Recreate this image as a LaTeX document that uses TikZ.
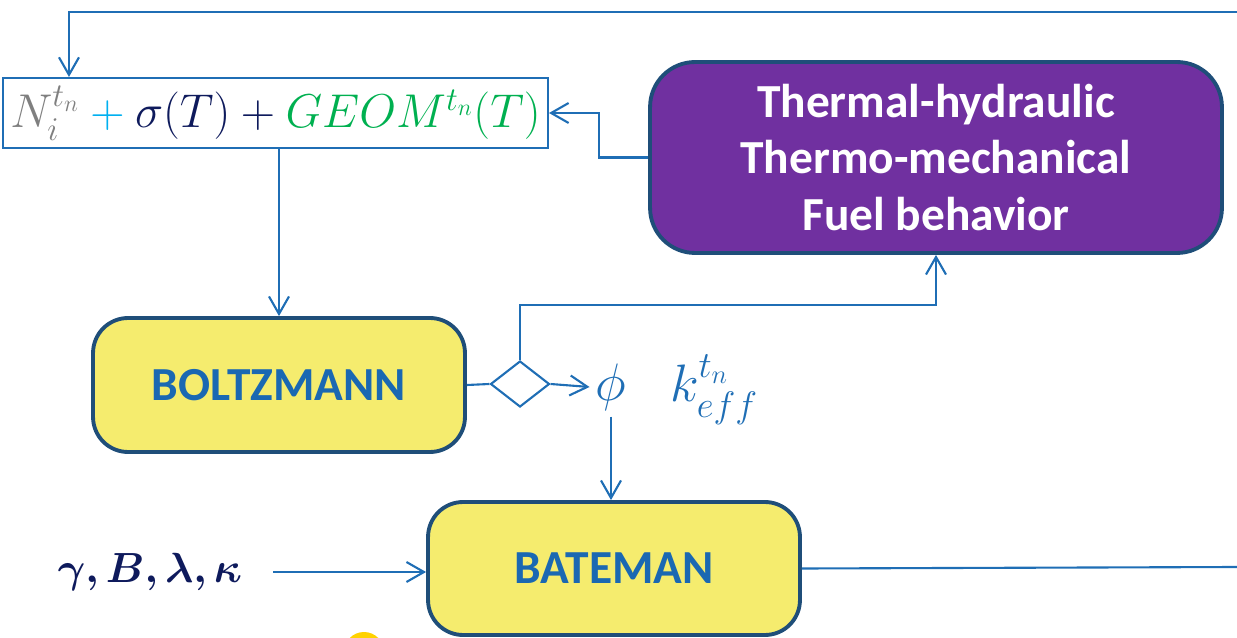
\RequirePackage{fix-cm}
\documentclass[tikz,border=0pt]{standalone}
\usepackage{mathtools,amssymb,bm}
\usepackage{fontspec}
\setsansfont{Carlito}
\usepackage{tikz}
\usetikzlibrary{arrows.meta,positioning,shapes.geometric}
\definecolor{wire}{HTML}{1F6EB5}
\definecolor{frame}{HTML}{1F4E79}
\definecolor{lemon}{HTML}{F5EC6E}
\definecolor{plum}{HTML}{7030A0}
\definecolor{keyblue}{HTML}{1A68B2}
\definecolor{navy}{HTML}{0E1A5C}
\definecolor{grey}{HTML}{7F7F7F}
\definecolor{sky}{HTML}{00B0F0}
\definecolor{leaf}{HTML}{00B050}
\definecolor{sun}{HTML}{FFD200}

\begin{document}
\begin{tikzpicture}[x=0.02cm,y=-0.02cm,
  box/.style={draw=frame,line width=2.2pt,rounded corners=0.7cm,fill=lemon,
    minimum width=7.44cm,minimum height=2.68cm,align=center,
    font=\sffamily\bfseries\fontsize{27}{32}\selectfont,text=keyblue},
  arr/.style={-{Straight Barb[length=3.5mm,width=4mm]},line width=1.2pt,draw=wire},
  wireline/.style={line width=1.2pt,draw=wire}]
\useasboundingbox (0,0) rectangle (1237,638);
\node[draw=wire,line width=1.2pt,minimum width=10.9cm,minimum height=1.4cm,inner sep=0pt,
  font=\fontsize{27}{32}\selectfont] (inp) at (275.5,113)
  {${\color{grey}N_i^{t_n}} \mathbin{\color{sky}+} {\color{navy}\sigma(T)} \mathbin{\color{navy}+} {\color{leaf}GEOM^{t_n}(T)}$};
\node[box,fill=plum,text=white,minimum width=11.44cm,minimum height=3.82cm,
  rounded corners=0.9cm] (thm) at (936,157.5) {Thermal-hydraulic\\Thermo-mechanical\\Fuel behavior};
\node[box] (bolt) at (279,385) {BOLTZMANN};
\node[box,minimum height=2.66cm] (bat) at (614,568.5) {BATEMAN};
\node[diamond,draw=wire,line width=1.2pt,minimum width=1.18cm,minimum height=0.92cm,
  inner sep=0pt,aspect=1.3] (dia) at (520,384) {};
\node[text=wire,font=\fontsize{30}{34}\selectfont] (phi) at (611,387) {$\phi$};
\node[text=wire,font=\fontsize{30}{34}\selectfont] (keff) at (714,390) {$k_{eff}^{t_n}$};
\node[text=navy,font=\fontsize{24}{28}\selectfont] (par) at (150,572) {$\bm{\gamma, B, \lambda, \kappa}$};
\coordinate (topR) at (1237,12);
\coordinate (outR) at (1237,567);
% feedback loop
\draw[arr] (topR) -| ([xshift=1.34cm]inp.north west);
\draw[arr] (inp.south -| bolt.north) -- (bolt.north);
\draw[arr] (thm.west) -- ++(-0.98cm,0) |- (inp.east);
\draw[wireline] (bolt.east) -- (dia.west);
\draw[arr] (dia.north) -- ++(0,1.1cm) -| (thm.south);
\draw[arr] (dia.east) -- (phi.west);
\draw[arr] (phi.south) -- (phi.south |- bat.north);
\draw[arr] ([xshift=0.5cm]par.east) -- (par.east -| bat.west);
\draw[wireline] (bat.east) -- (outR);
\fill[sun] (364,652) circle (0.4cm);
\end{tikzpicture}
\end{document}
